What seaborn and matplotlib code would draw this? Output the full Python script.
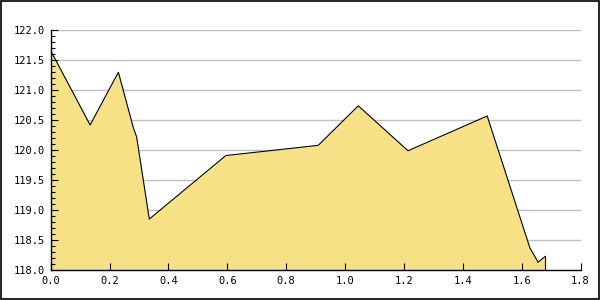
import matplotlib
matplotlib.use("Agg")
import matplotlib.pyplot as plt
import seaborn as sns
import pandas as pd
from matplotlib.ticker import MultipleLocator, FormatStrFormatter
from matplotlib.patches import Rectangle

x_vals = [0.0, 0.134, 0.230, 0.281, 0.292, 0.335, 0.595, 0.909, 1.045, 1.214, 1.483, 1.628, 1.656, 1.681]
y_vals = [121.66, 120.42, 121.30, 120.37, 120.22, 118.85, 119.91, 120.08, 120.74, 119.99, 120.57, 118.37, 118.13, 118.23]

y_min, y_max = 118.0, 122.0
x_min, x_max = 0.0, 1.8
grid_levels = [118.5, 119.0, 119.5, 120.0, 120.5, 121.0, 121.5, 122.0]

sns.set_style("white")
plt.rcParams['font.family'] = ['DejaVu Sans Mono']

fig = plt.figure(figsize=(6, 3), dpi=100)
ax = fig.add_axes([0.0845, 0.1, 0.883, 0.799])

for g in grid_levels:
    ax.axhline(g, color="#C0C0C0", linewidth=1.0, zorder=1)

df = pd.DataFrame({"x": x_vals, "y": y_vals})
ax.fill_between(df["x"], df["y"], y_min, color="#F6E187", linewidth=0, zorder=2)
sns.lineplot(data=df, x="x", y="y", ax=ax, color="black", linewidth=0.8, zorder=3, sort=False)
ax.plot([x_vals[-1], x_vals[-1]], [y_vals[-1], y_min], color="black", linewidth=0.8, zorder=3)

ax.set_xlim(x_min, x_max)
ax.set_ylim(y_min, y_max)
ax.xaxis.set_major_locator(MultipleLocator(0.2))
ax.xaxis.set_major_formatter(FormatStrFormatter("%.1f"))
ax.yaxis.set_major_locator(MultipleLocator(0.5))
ax.yaxis.set_minor_locator(MultipleLocator(0.1))
ax.yaxis.set_major_formatter(FormatStrFormatter("%.1f"))

ax.grid(False)
ax.set_axisbelow(False)

for s in ["top", "right"]:
    ax.spines[s].set_visible(False)
for s in ["left", "bottom"]:
    ax.spines[s].set_color("black")
    ax.spines[s].set_linewidth(1.0)
    ax.spines[s].set_zorder(4)

ax.tick_params(axis="y", which="both", left=True, right=False)
ax.tick_params(axis="x", which="both", bottom=True, top=False)
ax.tick_params(axis="both", which="major", direction="in", length=5, width=0.8, color="black",
               labelsize=7.5, labelcolor="black")
ax.tick_params(axis="y", which="minor", direction="in", length=3, width=0.8, color="black")
ax.tick_params(axis="y", which="major", pad=4)
ax.tick_params(axis="x", which="major", pad=4)
ax.tick_params(axis="x", which="minor", length=0)

ax.set_xlabel("")
ax.set_ylabel("")

fig.patches.append(Rectangle((0.001, 0.002), 0.997, 0.996, transform=fig.transFigure,
                             fill=False, edgecolor="black", linewidth=1.2, zorder=10))

fig.savefig("out.png", dpi=100, facecolor="white")
